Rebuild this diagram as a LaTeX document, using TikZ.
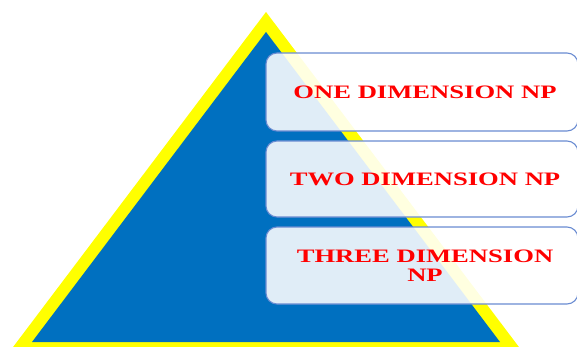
\documentclass[tikz,border=0pt]{standalone}
\usepackage{fontspec}
\setmainfont{Liberation Serif}
\definecolor{pyrblue}{HTML}{0070C0}
\definecolor{pyryellow}{HTML}{FFFF00}
\definecolor{boxline}{HTML}{6A8CD2}
\definecolor{txtred}{HTML}{FF0000}
\newcommand{\wide}[1]{\scalebox{1.40}[1]{#1}}
\tikzset{
  levelbox/.style={draw=boxline, line width=1.1pt, rounded corners=11pt, fill=white, fill opacity=0.88, text opacity=1},
  leveltext/.style={text=txtred, font=\bfseries\fontsize{19}{17}\selectfont, align=center, inner sep=0pt}
}
\begin{document}
\begin{tikzpicture}[x=1pt,y=-1pt]
\useasboundingbox (0,0) rectangle (577,347);
\clip (0,0) rectangle (577,347);
\fill[pyryellow] (266,12) -- (266-0.755*345,357) -- (266+0.755*345,357) -- cycle;
\fill[pyrblue] (266,32) -- (32,342) -- (500,342) -- cycle;
\draw[levelbox] (266,53) rectangle (578,131);
\draw[levelbox] (266,141) rectangle (578,217);
\draw[levelbox] (266,227) rectangle (578,304);
\node[leveltext] (one) at (425,92) {\wide{ONE DIMENSION NP}};
\node[leveltext] (two) at (425,179) {\wide{TWO DIMENSION NP}};
\node[leveltext] (three) at (425,265.5) {\wide{THREE DIMENSION}\\[1.5pt]\wide{NP}};
\end{tikzpicture}
\end{document}
